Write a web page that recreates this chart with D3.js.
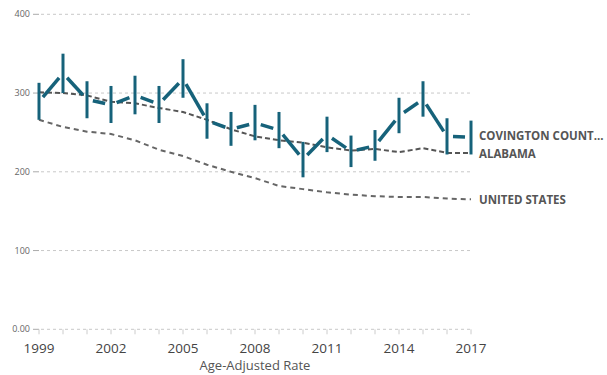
<!DOCTYPE html>
<html>
<head>
<meta charset="utf-8">
<script src="https://cdn.jsdelivr.net/npm/d3@7"></script>
<style>
  html, body { margin: 0; padding: 0; background: #fff; }
  svg { display: block; font-family: "Open Sans", "Noto Sans", sans-serif; }
</style>
</head>
<body>
<svg id="chart" width="607" height="375"></svg>
<script>
// Age-adjusted rates per year
const years = d3.range(1999, 2018);
const countyRate  = [289, 325, 292, 285, 297, 286, 318, 265, 254, 262, 253, 216, 247, 226, 233, 271, 292, 245, 244];
const countyLow   = [266, 300, 268, 262, 273, 262, 294, 242, 233, 240, 230, 193, 225, 206, 214, 249, 270, 222, 222];
const countyHigh  = [313, 350, 315, 309, 322, 309, 343, 287, 276, 285, 276, 238, 270, 246, 253, 294, 315, 268, 265];
const alabamaRate = [301, 300, 297, 289, 287, 281, 276, 266, 254, 245, 240, 237, 231, 227, 229, 225, 230, 224, 224];
const usRate      = [266, 257, 251, 248, 240, 228, 220, 209, 200, 192, 182, 178, 174, 171, 169, 168, 168, 166, 165];
const yTicks = [0, 100, 200, 300, 400];
const xTickLabels = [1999, 2002, 2005, 2008, 2011, 2014, 2017];
const seriesLabels = ["COVINGTON COUNT...", "ALABAMA", "UNITED STATES"];

const svg = d3.select("#chart");
const x = d3.scaleLinear().domain([1999, 2017]).range([39, 471]);
const y = d3.scaleLinear().domain([0, 400]).range([329.3, 14.3]);

// Horizontal gridlines with short solid ticks and labels
const grid = svg.append("g");
yTicks.forEach(t => {
  grid.append("line")
    .attr("x1", 33).attr("x2", 39)
    .attr("y1", y(t)).attr("y2", y(t))
    .attr("stroke", "#aaa").attr("stroke-width", 1);
  grid.append("line")
    .attr("x1", 41).attr("x2", 471)
    .attr("y1", y(t)).attr("y2", y(t))
    .attr("stroke", "#c8c8c8").attr("stroke-width", 1)
    .attr("stroke-dasharray", "3,3");
  grid.append("text")
    .attr("x", 30).attr("y", y(t)).attr("dy", "0.35em")
    .attr("text-anchor", "end")
    .attr("font-size", 9).attr("fill", "#666")
    .text(t === 0 ? "0.00" : t);
});

// Year ticks along the baseline
years.forEach(yr => {
  svg.append("line")
    .attr("x1", x(yr)).attr("x2", x(yr))
    .attr("y1", y(0)).attr("y2", y(0) + 5)
    .attr("stroke", "#ccc").attr("stroke-width", 1);
});
xTickLabels.forEach(yr => {
  svg.append("text")
    .attr("x", x(yr)).attr("y", 353)
    .attr("text-anchor", "middle")
    .attr("font-size", 13.5).attr("fill", "#444")
    .text(yr);
});
svg.append("text")
  .attr("x", 255).attr("y", 370)
  .attr("text-anchor", "middle")
  .attr("font-size", 13).attr("fill", "#555")
  .text("Age-Adjusted Rate");

// Reference lines
const line = d3.line().x((d, i) => x(years[i])).y(d => y(d));
svg.append("path").datum(usRate)
  .attr("d", line).attr("fill", "none")
  .attr("stroke", "#666").attr("stroke-width", 2)
  .attr("stroke-dasharray", "5,4");
svg.append("path").datum(alabamaRate)
  .attr("d", line).attr("fill", "none")
  .attr("stroke", "#555").attr("stroke-width", 2)
  .attr("stroke-dasharray", "5,3");

// County: gapped segments between years plus interval bars
const teal = "#16627a";
const gap = 6;
const segs = svg.append("g");
for (let i = 0; i < years.length - 1; i++) {
  const x0 = x(years[i]), y0 = y(countyRate[i]);
  const x1 = x(years[i + 1]), y1 = y(countyRate[i + 1]);
  const len = Math.hypot(x1 - x0, y1 - y0);
  const ux = (x1 - x0) / len, uy = (y1 - y0) / len;
  segs.append("line")
    .attr("x1", x0 + ux * gap).attr("y1", y0 + uy * gap)
    .attr("x2", x1 - ux * gap).attr("y2", y1 - uy * gap)
    .attr("stroke", teal).attr("stroke-width", 3.5);
}
svg.append("g").selectAll("line").data(years).join("line")
  .attr("x1", d => x(d)).attr("x2", d => x(d))
  .attr("y1", (d, i) => y(countyHigh[i]))
  .attr("y2", (d, i) => y(countyLow[i]))
  .attr("stroke", teal).attr("stroke-width", 3);

// End labels
const last = years.length - 1;
const labelY = [y(countyRate[last]) - 1, y(alabamaRate[last]) + 1, y(usRate[last]) + 1];
seriesLabels.forEach((s, i) => {
  svg.append("text")
    .attr("x", 479).attr("y", labelY[i]).attr("dy", "0.35em")
    .attr("font-size", 11.5).attr("font-weight", 700).attr("fill", "#555")
    .text(s);
});
</script>
</body>
</html>
